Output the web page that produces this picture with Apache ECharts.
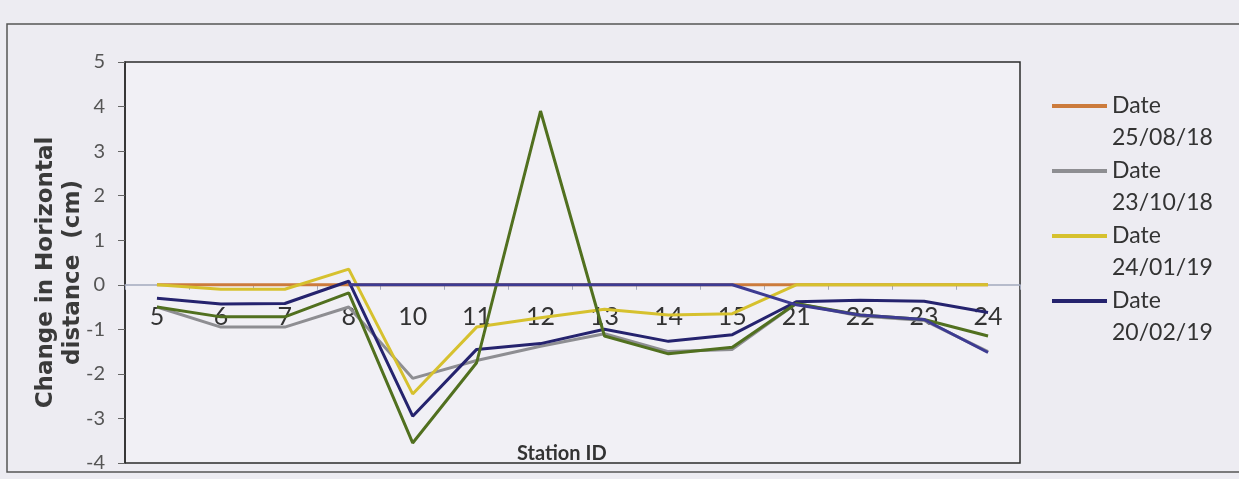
<!DOCTYPE html>
<html>
<head>
<meta charset="utf-8">
<script src="https://cdn.jsdelivr.net/npm/echarts@6/dist/echarts.min.js"></script>
<style>
  html, body { margin: 0; padding: 0; background: #edecf2; }
  #chart { width: 1239px; height: 479px; }
</style>
</head>
<body>
<div id="chart"></div>
<script>
// station ids on the x axis
const stations = ["5", "6", "7", "8", "10", "11", "12", "13", "14", "15", "21", "22", "23", "24"];

// change in horizontal distance (cm)
const date250818 = [0, 0, 0, 0, 0, 0, 0, 0, 0, 0, 0, 0, 0, 0];
const date231018 = [-0.5, -0.95, -0.95, -0.5, -2.1, -1.7, -1.38, -1.1, -1.5, -1.45, -0.42, -0.7, -0.8, -1.5];
const date240119 = [0, -0.1, -0.1, 0.35, -2.45, -0.95, -0.74, -0.55, -0.68, -0.65, 0, 0, 0, 0];
const date200219 = [-0.3, -0.43, -0.42, 0.08, -2.95, -1.45, -1.32, -1.0, -1.27, -1.12, -0.38, -0.35, -0.37, -0.62];
// two more series drawn in the plot, their legend entries are cut off
const greenSeries = [-0.5, -0.72, -0.72, -0.18, -3.55, -1.75, 3.9, -1.15, -1.55, -1.4, -0.42, -0.68, -0.78, -1.15];
const blueSeries = [null, null, null, 0, 0, 0, 0, 0, 0, 0, -0.45, -0.68, -0.78, -1.52];

const legendNames = ["Date 25/08/18", "Date 23/10/18", "Date 24/01/19", "Date 20/02/19"];

const FONT = "Lato";
const Y_MIN = -4, Y_MAX = 5;
const GRID_TOP = 62, GRID_BOTTOM = 16, CHART_H = 479;
// lift the category axis (line, ticks, labels) up to the y = 0 level
const plotH = CHART_H - GRID_TOP - GRID_BOTTOM;
const zeroLift = -plotH * (0 - Y_MIN) / (Y_MAX - Y_MIN);

function line(name, data, color, z) {
  return {
    name: name,
    type: "line",
    data: data,
    symbol: "none",
    z: z,
    lineStyle: { color: color, width: 3 },
    itemStyle: { color: color },
  };
}

let chart = echarts.init(document.getElementById("chart"));

let option = {
  backgroundColor: "#edecf2",
  animation: false,
  textStyle: { fontFamily: FONT },
  title: {
    // x axis title sits on the bottom frame
    text: "Station ID",
    left: 517,
    top: 444,
    padding: 0,
    textStyle: { fontFamily: FONT, fontSize: 20, fontWeight: "bold", color: "#333" },
  },
  graphic: [
    {
      // outer chart-area frame
      type: "rect",
      shape: { x: 7, y: 24, width: 1240, height: 448 },
      style: { fill: "none", stroke: "#555", lineWidth: 1.5 },
      silent: true,
    },
  ],
  grid: {
    left: 125,
    right: 219,
    top: GRID_TOP,
    bottom: GRID_BOTTOM,
    outerBoundsMode: "none",
    show: true,
    backgroundColor: "#f1f0f5",
    borderColor: "#2b2b2b",
    borderWidth: 1.5,
  },
  legend: {
    data: legendNames,
    orient: "vertical",
    left: 1047,
    top: 53,
    icon: "rect",
    itemWidth: 55,
    itemHeight: 4,
    itemGap: -31,
    // blank first line keeps the swatch level with "Date"
    formatter: (name) => "\n" + name.replace(" ", "\n"),
    textStyle: {
      fontFamily: FONT,
      fontSize: 23,
      color: "#333",
      lineHeight: 32,
    },
  },
  xAxis: {
    type: "category",
    data: stations,
    boundaryGap: true,
    offset: zeroLift,
    axisLine: { onZero: false, lineStyle: { color: "#a3a9bd", width: 1.5 } },
    axisTick: { show: true, length: 5, lineStyle: { color: "#a3a9bd" } },
    axisLabel: { fontFamily: FONT, fontSize: 25, color: "#333", margin: 20 },
    splitLine: { show: false },
  },
  yAxis: {
    type: "value",
    min: Y_MIN,
    max: Y_MAX,
    interval: 1,
    name: "Change in Horizontal\ndistance  (cm)",
    nameLocation: "middle",
    nameGap: 38,
    nameMoveOverlap: false,
    nameTextStyle: {
      fontFamily: "DejaVu Sans", fontSize: 23, fontWeight: "bold", color: "#3a3a3a",
      lineHeight: 27, padding: [0, 20, 0, 0],
    },
    axisLine: { show: true, lineStyle: { color: "#2b2b2b", width: 1.5 } },
    axisTick: { show: true, length: 7, lineStyle: { color: "#666" } },
    axisLabel: { fontFamily: FONT, fontSize: 20, color: "#555", margin: 20 },
    splitLine: { show: false },
  },
  series: [
    line("Date 25/08/18", date250818, "#cc7b3c", 2),
    line("Date 23/10/18", date231018, "#8e8e92", 3),
    line("Date 24/01/19", date240119, "#d6c12e", 4),
    line("Date 20/02/19", date200219, "#25236e", 5),
    line("Series 5", greenSeries, "#51701f", 6),
    line("Series 6", blueSeries, "#3d3b92", 7),
  ],
};

chart.setOption(option);
</script>
</body>
</html>
